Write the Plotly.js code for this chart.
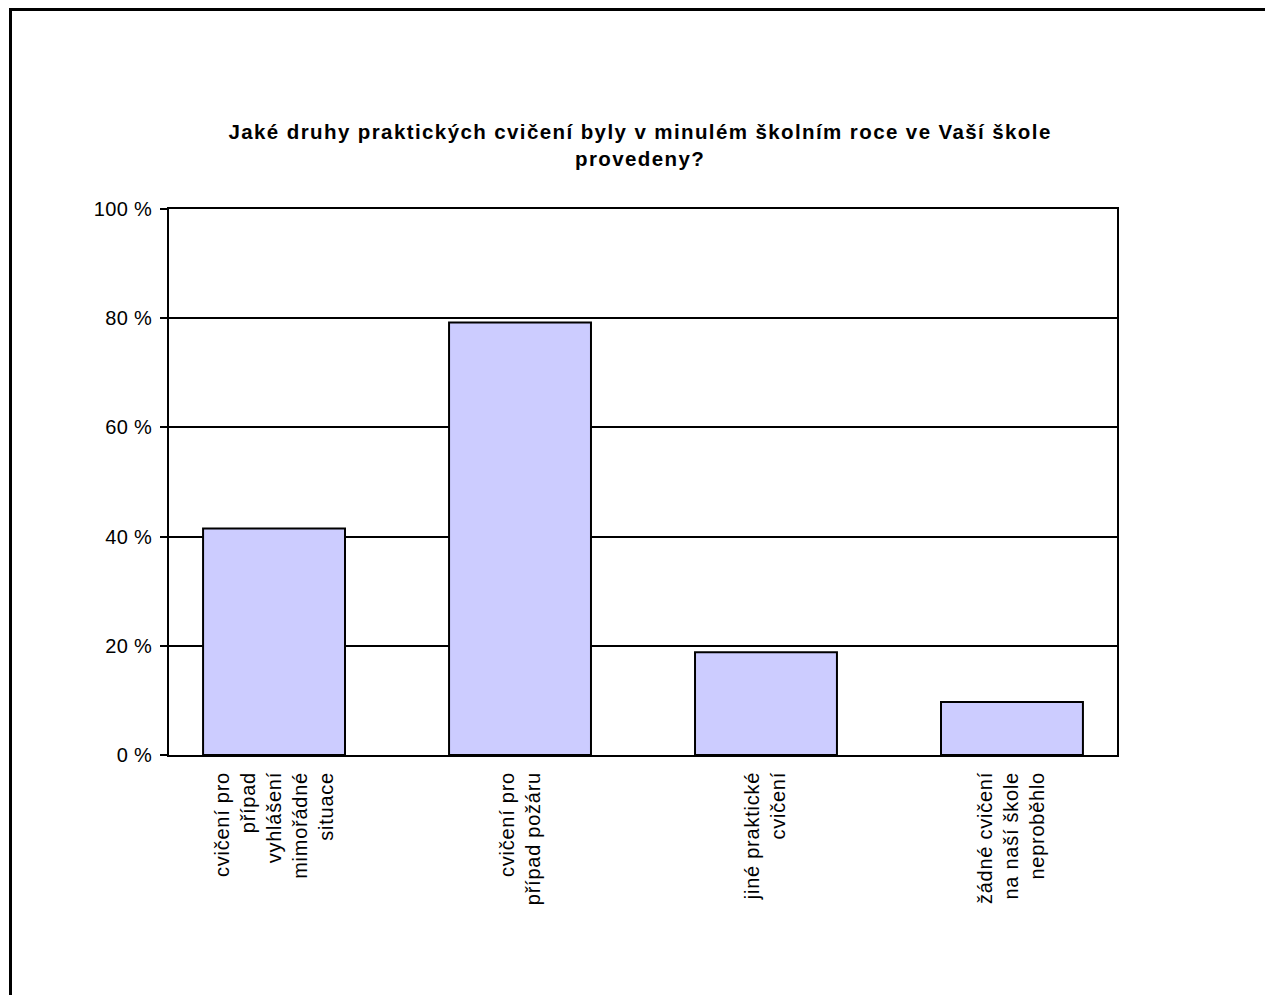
<!DOCTYPE html>
<html>
<head>
<meta charset="utf-8">
<script src="https://cdn.plot.ly/plotly-3.0.1.min.js"></script>
<style>
html, body { margin: 0; padding: 0; background: #fff; overflow: hidden; }
#chart { width: 1265px; height: 995px; position: absolute; left: 0; top: 0; }
#frame { position: absolute; left: 9px; top: 8px; width: 1400px; height: 1200px; border: 3px solid #000; pointer-events: none; }
#chart .xtick text { letter-spacing: 0.75px; }
#chart .ytick text { letter-spacing: 0.3px; }
#chart .gtitle { letter-spacing: 1.4px; }
</style>
</head>
<body>
<div id="chart"></div>
<div id="frame"></div>
<script>
const categories = [
  "cvičení pro<br>případ<br>vyhlášení<br>mimořádné<br>situace",
  "cvičení pro<br>případ požáru",
  "jiné praktické<br>cvičení",
  "žádné cvičení<br>na naší škole<br>neproběhlo"
];
const values = [41.5, 79.2, 18.8, 9.7];
const yTickValues = [0, 20, 40, 60, 80, 100];
const titleText = "Jaké druhy praktických cvičení byly v minulém školním roce ve Vaší škole<br>provedeny?";

const trace = {
  type: 'bar',
  x: categories,
  y: values,
  width: 0.577,
  marker: { color: '#CCCCFF', line: { color: '#000000', width: 2 } },
  hoverinfo: 'none'
};

const layout = {
  width: 1265,
  height: 995,
  margin: { l: 169, r: 148, t: 209, b: 240 },
  paper_bgcolor: '#ffffff',
  plot_bgcolor: '#ffffff',
  font: { family: 'Liberation Sans, Arial, sans-serif', size: 20, color: '#000' },
  title: {
    text: titleText,
    font: { family: 'Liberation Sans, Arial, sans-serif', size: 20.5, color: '#000', weight: 'bold' },
    x: 0.506, xref: 'container', xanchor: 'center',
    y: 0.86, yref: 'container', yanchor: 'top'
  },
  showlegend: false,
  xaxis: {
    type: 'category',
    range: [-0.427, 3.427],
    tickangle: -90,
    ticklabelstandoff: 7,
    showline: true, linecolor: '#000', linewidth: 2, mirror: true,
    ticks: '', showgrid: false,
    tickfont: { size: 20 }
  },
  yaxis: {
    range: [0, 100],
    tickvals: yTickValues,
    ticktext: yTickValues.map(v => v + ' %'),
    ticks: 'outside', ticklen: 7, tickwidth: 2, tickcolor: '#000',
    ticklabelstandoff: 4,
    showline: true, linecolor: '#000', linewidth: 2, mirror: true,
    showgrid: true, gridcolor: '#000', gridwidth: 2,
    zeroline: false,
    tickfont: { size: 20 }
  }
};

Plotly.newPlot('chart', [trace], layout, { displayModeBar: false, staticPlot: true });
</script>
</body>
</html>
